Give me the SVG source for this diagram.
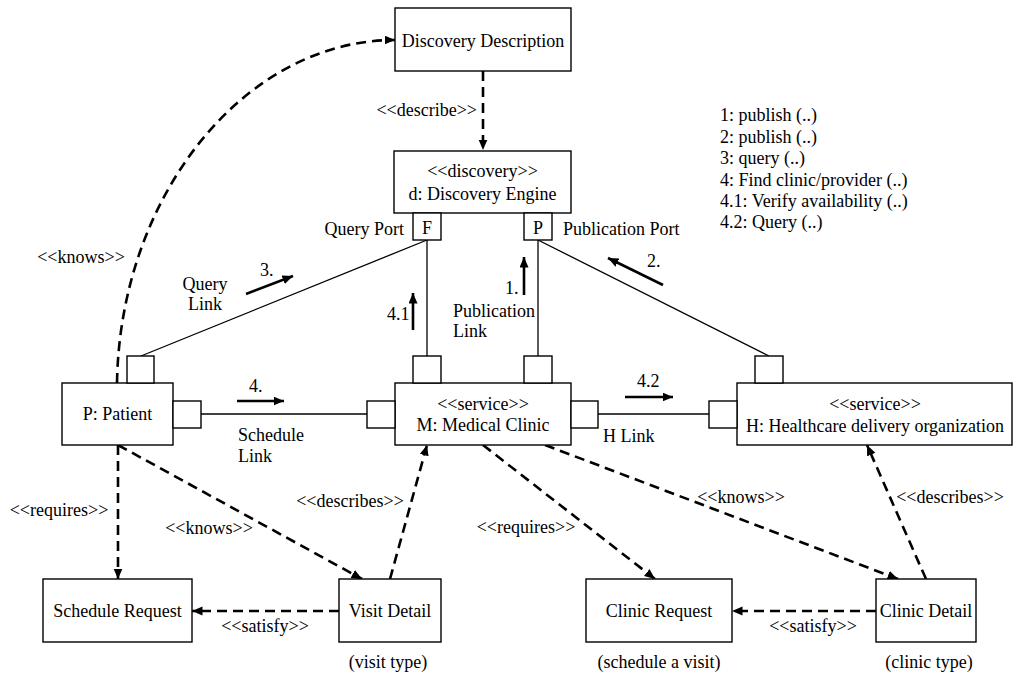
<svg xmlns="http://www.w3.org/2000/svg" width="1014" height="673" viewBox="0 0 1014 673">
  <style>
    text { font-family: "Liberation Serif", "Times New Roman", serif; font-size: 18px; fill: #000; }
    .c { text-anchor: middle; }
    .e { text-anchor: end; }
    .box { fill: #fff; stroke: #000; stroke-width: 1.4; }
    .port { fill: #fff; stroke: #000; stroke-width: 1.4; }
    .link { fill: none; stroke: #000; stroke-width: 1.3; }
    .dep { fill: none; stroke: #000; stroke-width: 2.6; stroke-dasharray: 10 6; marker-end: url(#head); }
    .msg { fill: none; stroke: #000; stroke-width: 2.6; marker-end: url(#head); }
  </style>
  <defs>
    <marker id="head" markerUnits="userSpaceOnUse" markerWidth="11" markerHeight="10" refX="10.5" refY="4.5" orient="auto">
      <path d="M0,0 L10.5,4.5 L0,9 z" fill="#000"/>
    </marker>
  </defs>
  <rect width="1014" height="673" fill="#fff"/>

  <!-- connectors -->
  <g id="connectors">
    <!-- port links -->
    <path class="link" d="M427,240 L141,356"/>
    <path class="link" d="M427,240 L427,356"/>
    <path class="link" d="M538,240 L538,356"/>
    <path class="link" d="M538,240 L769,356"/>
    <path class="link" d="M201,414 L367,414"/>
    <path class="link" d="M598,414 L709,414"/>

    <!-- dependencies -->
    <path class="dep" d="M483,71 L483,150"/>
    <path class="dep" d="M117,383 C120,195 245,40 395,40"/>
    <path class="dep" d="M118,445 L118,579"/>
    <path class="dep" d="M118,445 L362,579"/>
    <path class="dep" d="M390,579 L427,445"/>
    <path class="dep" d="M339,611 L192,611"/>
    <path class="dep" d="M483,445 L655,579"/>
    <path class="dep" d="M545,445 L898,579"/>
    <path class="dep" d="M926,579 L867,445"/>
    <path class="dep" d="M876,611 L732,611"/>

    <!-- message flow arrows -->
    <path class="msg" d="M246,294 L293,276"/>
    <path class="msg" d="M413,330 L413,293"/>
    <path class="msg" d="M524,295 L524,257"/>
    <path class="msg" d="M663,285 L608,258"/>
    <path class="msg" d="M237,401 L284,401"/>
    <path class="msg" d="M625,397 L673,397"/>

    <!-- connector labels -->
    <text class="e" x="477" y="116">&lt;&lt;describe&gt;&gt;</text>
    <text class="c" x="81" y="263">&lt;&lt;knows&gt;&gt;</text>
    <text class="e" x="404" y="235">Query Port</text>
    <text x="563" y="235">Publication Port</text>
    <text x="260" y="276">3.</text>
    <text class="c" x="205" y="290">Query</text>
    <text class="c" x="205" y="310">Link</text>
    <text x="387" y="320">4.1</text>
    <text x="505" y="294">1.</text>
    <text x="453" y="317">Publication</text>
    <text x="453" y="337">Link</text>
    <text x="647" y="267">2.</text>
    <text x="249" y="392">4.</text>
    <text x="238" y="441">Schedule</text>
    <text x="238" y="462">Link</text>
    <text x="637" y="387">4.2</text>
    <text x="603" y="442">H Link</text>
    <text class="c" x="59" y="516">&lt;&lt;requires&gt;&gt;</text>
    <text class="c" x="209" y="534">&lt;&lt;knows&gt;&gt;</text>
    <text class="c" x="350" y="507">&lt;&lt;describes&gt;&gt;</text>
    <text class="c" x="265" y="632">&lt;&lt;satisfy&gt;&gt;</text>
    <text class="c" x="526" y="533">&lt;&lt;requires&gt;&gt;</text>
    <text class="c" x="741" y="503">&lt;&lt;knows&gt;&gt;</text>
    <text class="c" x="950" y="503">&lt;&lt;describes&gt;&gt;</text>
    <text class="c" x="813" y="632">&lt;&lt;satisfy&gt;&gt;</text>
  </g>

  <!-- message legend -->
  <g id="legend">
    <text x="720" y="121">1: publish (..)</text>
    <text x="720" y="142.5">2: publish (..)</text>
    <text x="720" y="164">3: query (..)</text>
    <text x="720" y="185.5">4: Find clinic/provider (..)</text>
    <text x="720" y="207">4.1: Verify availability (..)</text>
    <text x="720" y="228">4.2: Query (..)</text>
  </g>

  <g id="discovery-description">
    <rect class="box" x="395" y="8" width="176" height="63"/>
    <text class="c" x="483" y="47">Discovery Description</text>
  </g>

  <g id="discovery-engine">
    <rect class="box" x="394" y="151" width="177" height="62"/>
    <text class="c" x="482.5" y="177">&lt;&lt;discovery&gt;&gt;</text>
    <text class="c" x="482.5" y="200">d: Discovery Engine</text>
    <rect class="port" x="413" y="213" width="28" height="27"/>
    <text class="c" x="427" y="234">F</text>
    <rect class="port" x="524" y="213" width="28" height="27"/>
    <text class="c" x="538" y="234">P</text>
  </g>

  <g id="patient">
    <rect class="box" x="62" y="383" width="111" height="62"/>
    <rect class="port" x="127" y="356" width="27" height="27"/>
    <rect class="port" x="173" y="401" width="28" height="27"/>
    <text class="c" x="117.5" y="420">P: Patient</text>
  </g>

  <g id="medical-clinic">
    <rect class="box" x="395" y="383" width="176" height="62"/>
    <rect class="port" x="413" y="356" width="28" height="27"/>
    <rect class="port" x="524" y="356" width="28" height="27"/>
    <rect class="port" x="367" y="401" width="28" height="27"/>
    <rect class="port" x="571" y="401" width="27" height="27"/>
    <text class="c" x="483" y="410">&lt;&lt;service&gt;&gt;</text>
    <text class="c" x="483" y="431">M: Medical Clinic</text>
  </g>

  <g id="healthcare-organization">
    <rect class="box" x="737" y="383" width="275" height="62"/>
    <rect class="port" x="755" y="356" width="28" height="27"/>
    <rect class="port" x="709" y="401" width="28" height="27"/>
    <text class="c" x="875" y="410">&lt;&lt;service&gt;&gt;</text>
    <text class="c" x="875" y="432">H: Healthcare delivery organization</text>
  </g>

  <g id="schedule-request">
    <rect class="box" x="43" y="579" width="149" height="63"/>
    <text class="c" x="117.5" y="617">Schedule Request</text>
  </g>

  <g id="visit-detail">
    <rect class="box" x="339" y="579" width="102" height="63"/>
    <text class="c" x="390" y="617">Visit Detail</text>
    <text class="c" x="388" y="668">(visit type)</text>
  </g>

  <g id="clinic-request">
    <rect class="box" x="586" y="579" width="146" height="63"/>
    <text class="c" x="659" y="617">Clinic Request</text>
    <text class="c" x="659" y="668">(schedule a visit)</text>
  </g>

  <g id="clinic-detail">
    <rect class="box" x="876" y="579" width="100" height="63"/>
    <text class="c" x="926" y="617">Clinic Detail</text>
    <text class="c" x="929" y="668">(clinic type)</text>
  </g>
</svg>
